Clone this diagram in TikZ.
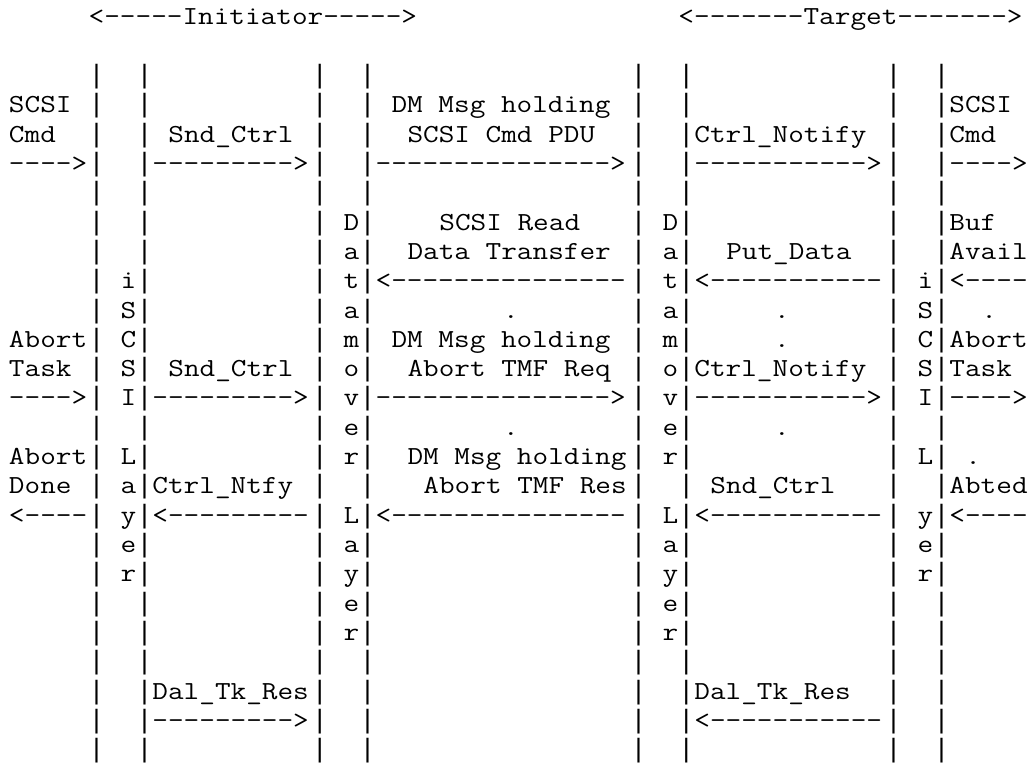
\documentclass[tikz,border=0pt]{standalone}
\usepackage{fontspec}
\setmonofont{Latin Modern Mono}[FakeStretch=1.168]
\newfontfamily\pipefont{Liberation Mono}
\newcommand\cw{15.94}
\newcommand\lh{29.33}
\tikzset{
  asc/.style={font=\ttfamily\fontsize{26}{29.33}\selectfont, inner sep=0pt, outer sep=0pt, anchor=base west, text=black},
  bar/.style={font=\pipefont\fontsize{26.57}{29.33}\selectfont, inner sep=0pt, outer sep=0pt, anchor=base west, text=black}
}
\newcommand\asc[3]{\node[asc] (t#1-#2) at ({9+#2*\cw},{24.7+#1*\lh}) {#3};}
\begin{document}
\begin{tikzpicture}[x=1pt,y=-1pt]
\fill[white] (0,0) rectangle (1031,765);
\useasboundingbox (0,0) rectangle (1031,765);
% vertical layer lines
\foreach \c in {5,8,19,22,39,42,55,58} {
  \foreach \r in {2,...,25} {
    \node[bar] (p\c-\r) at ({9+\c*\cw},{24.7+\r*\lh}) {|};
  }
}
% row 0
\asc{0}{5}{<-----Initiator----->}
\asc{0}{42}{<-------Target------->}
% row 3
\asc{3}{0}{SCSI}
\asc{3}{24}{DM Msg holding}
\asc{3}{59}{SCSI}
% row 4
\asc{4}{0}{Cmd}
\asc{4}{10}{Snd\_Ctrl}
\asc{4}{25}{SCSI Cmd PDU}
\asc{4}{43}{Ctrl\_Notify}
\asc{4}{59}{Cmd}
% row 5
\asc{5}{0}{---->}
\asc{5}{9}{--------->}
\asc{5}{23}{--------------->}
\asc{5}{43}{----------->}
\asc{5}{59}{---->}
% row 7
\asc{7}{21}{D}
\asc{7}{27}{SCSI Read}
\asc{7}{41}{D}
\asc{7}{59}{Buf}
% row 8
\asc{8}{21}{a}
\asc{8}{25}{Data Transfer}
\asc{8}{41}{a}
\asc{8}{45}{Put\_Data}
\asc{8}{59}{Avail}
% row 9
\asc{9}{7}{i}
\asc{9}{21}{t}
\asc{9}{23}{<---------------}
\asc{9}{41}{t}
\asc{9}{43}{<-----------}
\asc{9}{57}{i}
\asc{9}{59}{<----}
% row 10
\asc{10}{7}{S}
\asc{10}{21}{a}
\asc{10}{31}{.}
\asc{10}{41}{a}
\asc{10}{48}{.}
\asc{10}{57}{S}
\asc{10}{61}{.}
% row 11
\asc{11}{0}{Abort}
\asc{11}{7}{C}
\asc{11}{21}{m}
\asc{11}{24}{DM Msg holding}
\asc{11}{41}{m}
\asc{11}{48}{.}
\asc{11}{57}{C}
\asc{11}{59}{Abort}
% row 12
\asc{12}{0}{Task}
\asc{12}{7}{S}
\asc{12}{10}{Snd\_Ctrl}
\asc{12}{21}{o}
\asc{12}{25}{Abort TMF Req}
\asc{12}{41}{o}
\asc{12}{43}{Ctrl\_Notify}
\asc{12}{57}{S}
\asc{12}{59}{Task}
% row 13
\asc{13}{0}{---->}
\asc{13}{7}{I}
\asc{13}{9}{--------->}
\asc{13}{21}{v}
\asc{13}{23}{--------------->}
\asc{13}{41}{v}
\asc{13}{43}{----------->}
\asc{13}{57}{I}
\asc{13}{59}{---->}
% row 14
\asc{14}{21}{e}
\asc{14}{31}{.}
\asc{14}{41}{e}
\asc{14}{48}{.}
% row 15
\asc{15}{0}{Abort}
\asc{15}{7}{L}
\asc{15}{21}{r}
\asc{15}{25}{DM Msg holding}
\asc{15}{41}{r}
\asc{15}{57}{L}
\asc{15}{60}{.}
% row 16
\asc{16}{0}{Done}
\asc{16}{7}{a}
\asc{16}{9}{Ctrl\_Ntfy}
\asc{16}{26}{Abort TMF Res}
\asc{16}{44}{Snd\_Ctrl}
\asc{16}{59}{Abted}
% row 17
\asc{17}{0}{<----}
\asc{17}{7}{y}
\asc{17}{9}{<---------}
\asc{17}{21}{L}
\asc{17}{23}{<---------------}
\asc{17}{41}{L}
\asc{17}{43}{<-----------}
\asc{17}{57}{y}
\asc{17}{59}{<----}
% row 18
\asc{18}{7}{e}
\asc{18}{21}{a}
\asc{18}{41}{a}
\asc{18}{57}{e}
% row 19
\asc{19}{7}{r}
\asc{19}{21}{y}
\asc{19}{41}{y}
\asc{19}{57}{r}
% row 20
\asc{20}{21}{e}
\asc{20}{41}{e}
% row 21
\asc{21}{21}{r}
\asc{21}{41}{r}
% row 23
\asc{23}{9}{Dal\_Tk\_Res}
\asc{23}{43}{Dal\_Tk\_Res}
% row 24
\asc{24}{9}{--------->}
\asc{24}{43}{<-----------}
\end{tikzpicture}
\end{document}
